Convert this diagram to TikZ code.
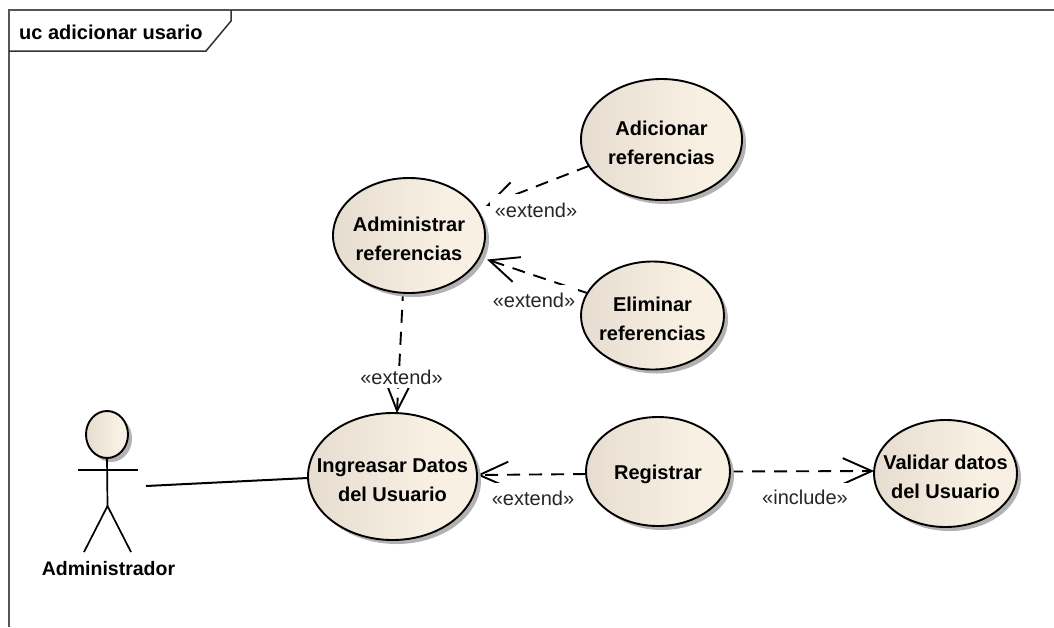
\documentclass[tikz,border=0pt]{standalone}
\usepackage{fontspec}
\setmainfont{Liberation Sans}
\usetikzlibrary{arrows.meta,shapes.geometric,shadows}
\definecolor{ucleft}{HTML}{E6DDD0}
\definecolor{ucright}{HTML}{F8F0E3}
\definecolor{framegray}{HTML}{555555}
\pgfdeclarehorizontalshading{ucfill}{100bp}{color(0bp)=(ucleft); color(25bp)=(ucleft); color(62bp)=(ucright); color(100bp)=(ucright)}
\newcommand{\uclines}[2]{\makebox[0pt][c]{\raisebox{-10pt}[0pt][0pt]{\begin{tabular}[c]{@{}c@{}}#1\\#2\end{tabular}}}}
\newcommand{\ucline}[1]{\makebox[0pt][c]{\raisebox{-7.5pt}[0pt][0pt]{#1}}}
\tikzset{
  ucase/.style={ellipse,draw=black,line width=1.9pt,inner sep=0pt,outer sep=0pt,shading=ucfill,
    font=\fontsize{20}{28.5}\selectfont\bfseries,
    drop shadow={shadow xshift=4pt,shadow yshift=-4pt,fill=black!30,opacity=1}},
  stereo/.style={fill=white,inner sep=0pt,outer sep=0pt,font=\fontsize{20}{24}\selectfont,text=black!85},
  depline/.style={line width=1.9pt,draw=black,dash pattern=on 13pt off 9pt},
  deparrow/.style={depline,-{Straight Barb[length=29pt,width=26pt,line width=1.9pt,sep=0pt]}},
  framel/.style={draw=framegray,line width=1.5pt},
  actorl/.style={draw=black,line width=1.7pt}
}
\begin{document}
\begin{tikzpicture}[x=1pt,y=-1pt]
\useasboundingbox (0,0) rectangle (1054,627);
\fill[white] (0,0) rectangle (1054,627);
% frame
\draw[framel] (9,627) -- (9,10) -- (1054,10);
\draw[framel,draw=black!80] (9,51) -- (206,51) -- (231,21) -- (231,10);
\node[anchor=base west,inner sep=0pt,font=\fontsize{20}{24}\selectfont\bfseries] (frametitle) at (19,39) {uc adicionar usario};
% node positions (geometry needed for connectors)
\path (661.5,139.5) node[ellipse,minimum width=161pt,minimum height=121pt,inner sep=0pt,outer sep=0pt] (adic0) {};
\path (652.5,315.5) node[ellipse,minimum width=143pt,minimum height=108pt,inner sep=0pt,outer sep=0pt] (elim0) {};
\path (409,235.5) node[ellipse,minimum width=152pt,minimum height=115pt,inner sep=0pt,outer sep=0pt] (admi0) {};
\path (392.5,476.5) node[ellipse,minimum width=169pt,minimum height=127pt,inner sep=0pt,outer sep=0pt] (ingr0) {};
\path (658,471.5) node[ellipse,minimum width=144pt,minimum height=109pt,inner sep=0pt,outer sep=0pt] (regi0) {};
\path (945.5,473.5) node[ellipse,minimum width=143pt,minimum height=107pt,inner sep=0pt,outer sep=0pt] (vali0) {};
% connectors
\draw[deparrow,shorten >=10pt] (adic0.200.7) -- (admi0.21.6);
\draw[deparrow,shorten >=8pt] (elim0.161.8) -- (admi0.-17.7);
\draw[deparrow,dash phase=5pt] (admi0.264) -- (ingr0.86);
\draw[deparrow] (regi0.182.8) -- (ingr0.1);
\draw[deparrow] (regi0.0) -- (vali0.178.5);
% labels that mask the connectors
\node[stereo,minimum width=92pt,minimum height=32pt] (lab1) at (536,210) {«extend»};
\node[stereo,minimum width=88pt,minimum height=30pt] (lab2) at (534,300) {«extend»};
\node[stereo,minimum width=86pt,minimum height=22pt] (lab3) at (401.5,377) {«extend»};
\node[stereo,minimum width=88pt,minimum height=30pt] (lab4) at (533,498) {«extend»};
\node[stereo,minimum width=90pt,minimum height=28pt] (lab5) at (805,497) {«include»};
% use cases
\node[ucase,minimum width=161pt,minimum height=121pt] (adic) at (adic0) {\uclines{Adicionar}{referencias}};
\node[ucase,minimum width=143pt,minimum height=108pt] (elim) at (elim0) {\uclines{Eliminar}{referencias}};
\node[ucase,minimum width=152pt,minimum height=115pt] (admi) at (admi0) {\uclines{Administrar}{referencias}};
\node[ucase,minimum width=169pt,minimum height=127pt] (ingr) at (ingr0) {\uclines{Ingreasar Datos}{del Usuario}};
\node[ucase,minimum width=144pt,minimum height=109pt] (regi) at (regi0) {\ucline{Registrar}};
\node[ucase,minimum width=143pt,minimum height=107pt] (vali) at (vali0) {\uclines{Validar datos}{del Usuario}};
% actor
\node[ucase,minimum width=42pt,minimum height=47pt] (head) at (107,434.5) {};
\coordinate (hip) at (107.5,506);
\draw[actorl] (head.south) -- (hip);
\draw[actorl] (78,470) -- (137.5,470);
\draw[actorl] (84,552) -- (hip) -- (131,552);
\node[inner sep=0pt,font=\fontsize{19.5}{24}\selectfont\bfseries] (actorname) at (108.5,569) {Administrador};
\coordinate (actorend) at (146,486);
\draw[line width=2pt] (actorend) -- (ingr.181.7);
\end{tikzpicture}
\end{document}
